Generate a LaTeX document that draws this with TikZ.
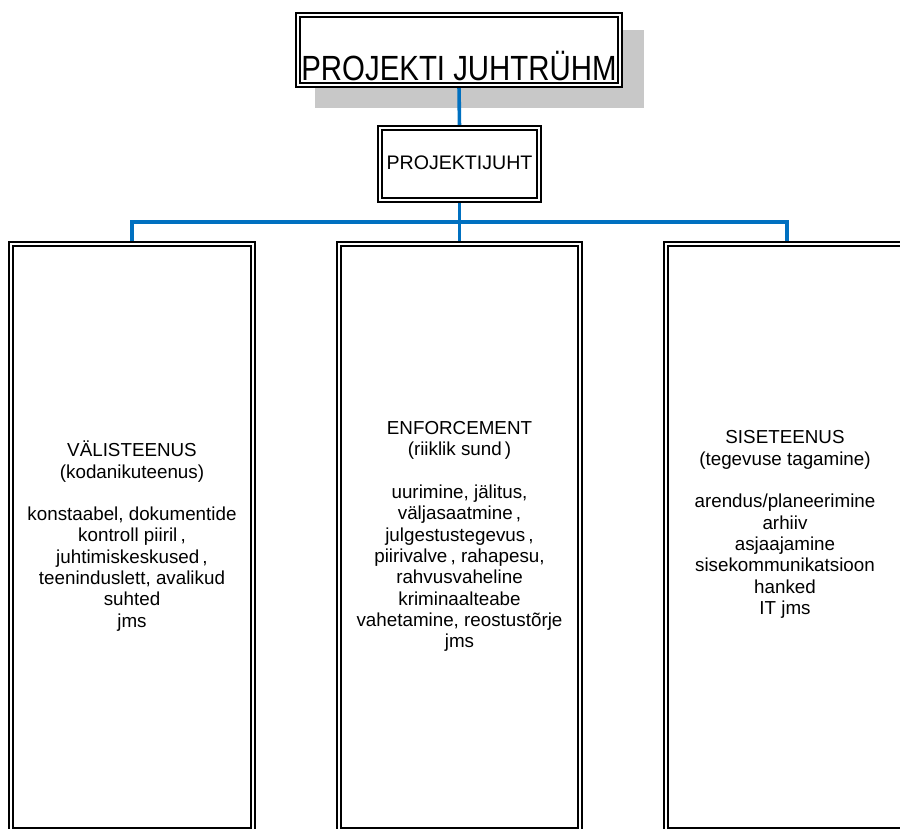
\documentclass[tikz,border=0pt]{standalone}
\usepackage{fontspec}
\setmainfont{Liberation Sans}
\usetikzlibrary{backgrounds}
\definecolor{linkblue}{RGB}{0,112,192}
\definecolor{shadowgray}{RGB}{200,200,200}
\begin{document}
\begin{tikzpicture}[x=1pt,y=-1pt,
  dbl/.style={draw=black, line width=2.2pt, double=white, double distance=1.4pt,
              fill=white, inner sep=0pt, outer sep=0pt},
  link/.style={draw=linkblue, line width=3.6pt},
  bodytext/.style={font=\fontsize{18.8}{21.3}\selectfont, align=center, inner sep=0pt}]
\useasboundingbox (0,0) rectangle (900,828);
\clip (0,0) rectangle (900,828);

% boxes
\node[dbl, minimum width=322.2pt, minimum height=70.2pt, text height=60pt, text depth=0pt,
      font=\fontsize{35}{40}\selectfont] (top) at (459,50)
      {\scalebox{0.84}[1]{PROJEKTI JUHTRÜHM}};
\node[dbl, minimum width=159.2pt, minimum height=72.2pt, text height=10pt, text depth=0pt,
      font=\fontsize{19.6}{22}\selectfont] (pj) at (459.5,164) {PROJEKTIJUHT};
\node[dbl, minimum width=242.2pt, minimum height=586.1pt] (lbox) at (132,536.95) {};
\node[dbl, minimum width=241.2pt, minimum height=586.1pt] (mbox) at (459.5,536.95) {};
\node[dbl, minimum width=242pt, minimum height=586.1pt] (rbox) at (786.9,536.95) {};

% texts
\node[bodytext] (ltext) at (132,536)
  {VÄLISTEENUS\\(kodanikuteenus)\\[21.3pt]konstaabel, dokumentide\\kontroll piiril\,,\\juhtimiskeskused\,,\\teeninduslett, avalikud\\suhted\\jms};
\node[bodytext] (mtext) at (459.5,536.5)
  {ENFORCEMENT\\(riiklik sund\,)\\[21.3pt]uurimine, jälitus,\\väljasaatmine\,,\\julgestustegevus\,,\\piirivalve\,, rahapesu,\\rahvusvaheline\\kriminaalteabe\\vahetamine, reostustõrje\\jms};
\node[bodytext] (rtext) at (785,524.5)
  {SISETEENUS\\(tegevuse tagamine)\\[21.3pt]arendus/planeerimine\\arhiiv\\asjaajamine\\sisekommunikatsioon\\hanked\\IT jms};

\coordinate (bus) at (459.5,222);

\begin{scope}[on background layer]
  \fill[shadowgray] (315,30) rectangle (644,108);
  \draw[link] (top.south) -- (pj.north);
  \draw[link] (pj.south) -- (mbox.north);
  \draw[link] (lbox.north) |- (bus) -| (rbox.north);
\end{scope}
\end{tikzpicture}
\end{document}
